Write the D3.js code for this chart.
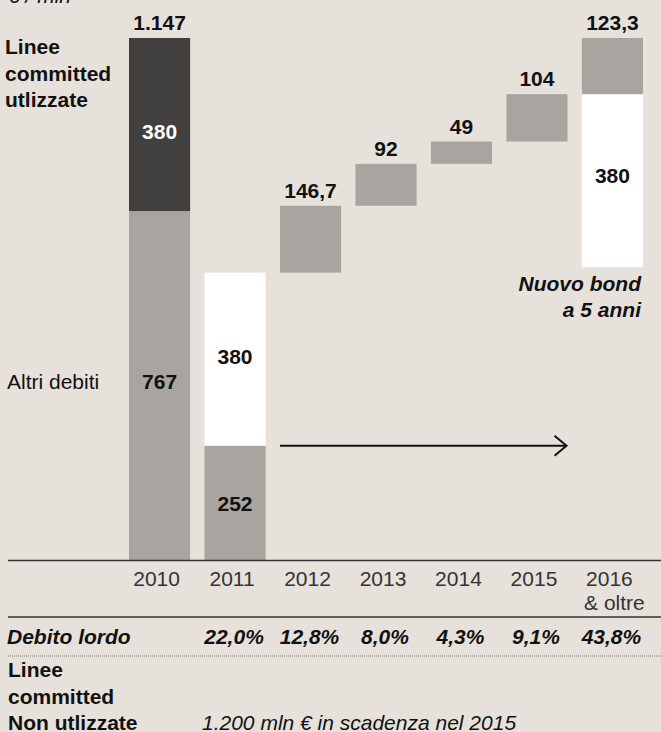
<!DOCTYPE html>
<html lang="it">
<head>
<meta charset="UTF-8">
<title>Debito lordo - scadenze</title>
<script src="https://cdn.jsdelivr.net/npm/d3@7"></script>
<style>
  html, body { margin: 0; padding: 0; background: #e7e1dc; }
  svg { display: block; font-family: "Liberation Sans", Arial, Helvetica, sans-serif; }
</style>
</head>
<body>
<svg width="661" height="732"></svg>
<script>
// dati
var years = ["2010", "2011", "2012", "2013", "2014", "2015", "2016"];
var altriDebiti = [767, 252, 146.7, 92, 49, 104, 123.3];   // grigio
var lineeUtilizzate = [380, 0, 0, 0, 0, 0, 0];             // scuro
var bond = [0, 380, 0, 0, 0, 0, 380];                      // bianco
var topLabels = ["1.147", "", "146,7", "92", "49", "104", "123,3"];
var debitoLordo = ["", "22,0%", "12,8%", "8,0%", "4,3%", "9,1%", "43,8%"];

var FS = 21;
var svg = d3.select("svg");
var W = +svg.attr("width");

var x = d3.scaleBand().domain(years).range([129, 643]).paddingInner(0.19).paddingOuter(0);
var y = d3.scaleLinear().domain([0, 1147]).range([560.5, 38]);

// segmenti della cascata
var segs = [];
var running = 0;
years.forEach(function (yr, i) {
  if (i === 0) {
    segs.push({ yr: yr, y0: 0, y1: altriDebiti[i], fill: "#a8a5a0", label: altriDebiti[i], inside: true, color: "#111", dy: -4 });
    segs.push({ yr: yr, y0: altriDebiti[i], y1: altriDebiti[i] + lineeUtilizzate[i], fill: "#42403e", label: lineeUtilizzate[i], inside: true, color: "#fff", dy: 7 });
    return;
  }
  if (i === years.length - 1) {
    // nuovo bond appeso sotto l'ultima scadenza
    segs.push({ yr: yr, y0: running - bond[i], y1: running, fill: "#fff", label: bond[i], inside: true, color: "#111", dy: -5 });
    segs.push({ yr: yr, y0: running, y1: running + altriDebiti[i], fill: "#a8a5a0" });
    running += altriDebiti[i];
    return;
  }
  segs.push({ yr: yr, y0: running, y1: running + altriDebiti[i], fill: "#a8a5a0", label: i === 1 ? altriDebiti[i] : null, inside: i === 1, color: "#111", dy: 1 });
  running += altriDebiti[i];
  if (bond[i]) {
    segs.push({ yr: yr, y0: running, y1: running + bond[i], fill: "#fff", label: bond[i], inside: true, color: "#111", dy: -3 });
    running += bond[i];
  }
});

var g = svg.append("g");

g.selectAll("rect").data(segs).enter().append("rect")
  .attr("x", function (d) { return x(d.yr); })
  .attr("width", x.bandwidth())
  .attr("y", function (d) { return y(d.y1); })
  .attr("height", function (d) { return y(d.y0) - y(d.y1); })
  .attr("fill", function (d) { return d.fill; });

g.selectAll(".inlab").data(segs.filter(function (d) { return d.inside && d.label; })).enter().append("text")
  .attr("x", function (d) { return x(d.yr) + x.bandwidth() / 2; })
  .attr("y", function (d) { return (y(d.y0) + y(d.y1)) / 2 + d.dy; })
  .attr("dy", "0.35em")
  .attr("text-anchor", "middle")
  .attr("font-size", FS).attr("font-weight", "bold")
  .attr("fill", function (d) { return d.color; })
  .text(function (d) { return d.label; });

// etichette sopra le barre
var tops = {};
segs.forEach(function (d) { tops[d.yr] = Math.max(tops[d.yr] || 0, d.y1); });
g.selectAll(".toplab").data(years.filter(function (d, i) { return topLabels[i]; })).enter().append("text")
  .attr("x", function (d) { return x(d) + x.bandwidth() / 2; })
  .attr("y", function (d) { return y(tops[d]) - 8; })
  .attr("text-anchor", "middle")
  .attr("font-size", FS).attr("font-weight", "bold").attr("fill", "#111")
  .text(function (d) { return topLabels[years.indexOf(d)]; });

// freccia 2011 -> 2016
var ay = y(altriDebiti[1]);
var ax1 = x("2015") + x.bandwidth() - 1;
svg.append("line").attr("x1", x("2012")).attr("x2", ax1).attr("y1", ay).attr("y2", ay)
  .attr("stroke", "#111").attr("stroke-width", 2);
svg.append("path").attr("d", "M" + (ax1 - 12) + "," + (ay - 10) + "L" + ax1 + "," + ay + "L" + (ax1 - 12) + "," + (ay + 10))
  .attr("fill", "none").attr("stroke", "#111").attr("stroke-width", 2);

// testi laterali
svg.append("text").attr("x", 8).attr("y", 3).attr("font-size", FS).attr("font-style", "italic").attr("fill", "#111").text("€ / mln");
var lu = svg.append("text").attr("font-size", FS).attr("font-weight", "bold").attr("fill", "#111");
["Linee", "committed", "utlizzate"].forEach(function (t, i) {
  lu.append("tspan").attr("x", 5).attr("y", 54 + i * 26.5).text(t);
});
svg.append("text").attr("x", 7).attr("y", 389)
  .attr("font-size", FS).attr("fill", "#111").text("Altri debiti");

var nb = svg.append("text").attr("text-anchor", "end").attr("font-size", FS)
  .attr("font-weight", "bold").attr("font-style", "italic").attr("fill", "#111");
nb.append("tspan").attr("x", 641).attr("y", 291).text("Nuovo bond");
nb.append("tspan").attr("x", 641).attr("y", 317).text("a 5 anni");

// asse x
var axis = svg.append("g").attr("transform", "translate(-3,560)")
  .call(d3.axisBottom(x).tickSize(0).tickPadding(11));
axis.select(".domain").remove();
axis.selectAll("text").attr("font-size", FS).attr("fill", "#333")
  .attr("font-family", "\"Liberation Sans\", Arial, sans-serif");
svg.append("text").attr("x", x("2016") + x.bandwidth() / 2 + 2).attr("y", 610)
  .attr("text-anchor", "middle").attr("font-size", FS).attr("fill", "#333").text("& oltre");

svg.append("line").attr("x1", 8).attr("x2", W).attr("y1", 560.5).attr("y2", 560.5).attr("stroke", "#333").attr("stroke-width", 1.5);
svg.append("line").attr("x1", 8).attr("x2", W).attr("y1", 617).attr("y2", 617).attr("stroke", "#333").attr("stroke-width", 1.5);
svg.append("line").attr("x1", 8).attr("x2", W).attr("y1", 656).attr("y2", 656).attr("stroke", "#777").attr("stroke-width", 1).attr("stroke-dasharray", "1,1");

// righe tabella
svg.append("text").attr("x", 7).attr("y", 644).attr("font-size", FS).attr("font-weight", "bold").attr("font-style", "italic").attr("fill", "#111").text("Debito lordo");
svg.selectAll(".pct").data(years).enter().append("text")
  .attr("x", function (d) { return x(d) + x.bandwidth() / 2 - 1; })
  .attr("y", 644)
  .attr("text-anchor", "middle")
  .attr("font-size", FS).attr("font-weight", "bold").attr("font-style", "italic").attr("fill", "#111")
  .text(function (d, i) { return debitoLordo[i]; });

var nu = svg.append("text").attr("font-size", FS).attr("font-weight", "bold").attr("fill", "#111");
["Linee", "committed", "Non utlizzate"].forEach(function (t, i) {
  nu.append("tspan").attr("x", 8).attr("y", 677 + i * 26.5).text(t);
});
svg.append("text").attr("x", 202).attr("y", 730).attr("font-size", FS).attr("font-style", "italic")
  .attr("fill", "#111").text("1.200 mln € in scadenza nel 2015");
</script>
</body>
</html>
